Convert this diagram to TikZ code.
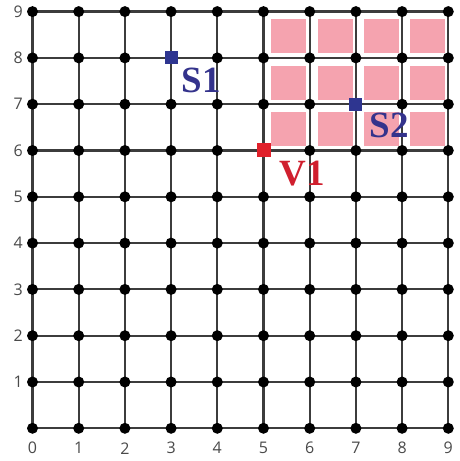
\documentclass[tikz,border=0pt]{standalone}
\usepackage{fontspec}
\setmainfont{Liberation Serif}
\newfontfamily\labfont{Open Sans}
\definecolor{gridgray}{HTML}{3C3C3C}
\definecolor{labgray}{HTML}{4A4A4A}
\definecolor{pinkblk}{HTML}{F5A3AF}
\definecolor{sblue}{HTML}{2E3590}
\definecolor{vred}{HTML}{E0202A}
\definecolor{tblue}{HTML}{34338C}
\definecolor{tred}{HTML}{D01F2E}
\begin{document}
\begin{tikzpicture}[x=46.2pt,y=46.3pt,
  gridline/.style={draw=gridgray,line width=2.2pt},
  dotnode/.style={circle,fill=black,inner sep=0pt,minimum size=11pt},
  sqblue/.style={rectangle,fill=sblue,inner sep=0pt,minimum size=13pt},
  sqred/.style={rectangle,fill=vred,inner sep=0pt,minimum size=14pt},
  axlab/.style={font=\labfont\fontsize{16}{16}\selectfont,text=labgray,inner sep=0pt},
  biglab/.style={font=\fontsize{37}{37}\selectfont\bfseries,inner sep=0pt},
  pinkbox/.style={fill=pinkblk}]
\useasboundingbox[fill=white] (-32.5pt,-32.7pt) rectangle (426.5pt,428.3pt);
% pink blocks
\foreach \i in {5,6,7,8}{
  \foreach \j in {6,7,8}{
    \fill[pinkbox] (\i+0.17,\j+0.1) rectangle (\i+0.93,\j+0.83);
  }
}
% grid coordinates
\foreach \i in {0,...,9}{
  \foreach \j in {0,...,9}{
    \coordinate (g-\i-\j) at (\i,\j);
  }
}
% grid lines
\foreach \k in {0,...,9}{
  \draw[gridline] (g-0-\k) -- (g-9-\k);
  \draw[gridline] (g-\k-0) -- (g-\k-9);
}
% dots
\foreach \i in {0,...,9}{
  \foreach \j in {0,...,9}{
    \node[dotnode] (d-\i-\j) at (g-\i-\j) {};
  }
}
% axis labels
\foreach \k in {0,...,9}{
  \node[axlab] (xl-\k) at (\k,-0.43) {\k};
}
\foreach \k in {1,...,9}{
  \node[axlab] (yl-\k) at (-0.31,\k) {\k};
}
% special points
\node[sqblue] (s1) at (3,8) {};
\node[sqblue] (s2) at (7,7) {};
\node[sqred] (v1) at (5,6) {};
\node[biglab,text=tblue] (s1lab) at (3.65,7.51) {S1};
\node[biglab,text=tblue] (s2lab) at (7.72,6.55) {S2};
\node[biglab,text=tred] (v1lab) at (5.84,5.50) {V1};
\end{tikzpicture}
\end{document}
